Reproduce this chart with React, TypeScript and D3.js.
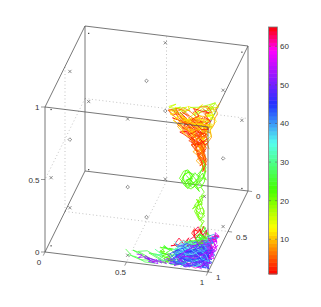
import React from 'react';
import * as d3 from 'd3';

const cubeTicks = [0, 0.5, 1];
const barTicks = [10, 20, 30, 40, 50, 60];

// colour value of each track, then x,y,z triples in percent of the axes
const topValues = [3, 5, 8, 10, 2, 12, 6, 16, 9, 4, 18, 11, 7, 17, 10, 3, 14, 6, 16, 5, 12, 8, 2, 4, 9, 1, 6, 11, 3, 8, 5, 13, 2, 7, 10, 4];
const topTracks = [
  [98,97,97, 93,94,98, 90,92,95, 86,91,97, 83,88,95, 79,87,98, 82,85,96, 77,84,97, 74,83,95, 71,81,97, 75,80,98, 80,84,94, 85,88,92, 89,92,90, 92,93,93, 95,95,89],
  [97,98,88, 95,96,84, 97,95,81, 94,97,78, 96,98,75, 98,96,72, 97,98,69, 95,96,73, 97,95,78, 93,93,82, 91,92,86, 88,91,89, 92,90,92, 90,87,95],
  [99,95,97, 96,90,98, 97,85,96, 94,82,98, 96,78,97, 93,75,98, 97,72,96, 95,70,97, 92,74,95, 90,79,97, 88,83,94, 91,86,92, 94,89,90, 96,92,87, 93,94,84, 96,96,81],
  [85,90,94, 81,86,97, 84,83,93, 88,85,96, 92,82,91, 89,80,95, 93,78,94, 91,84,89, 95,87,93, 92,90,85, 96,93,88, 94,96,80, 97,93,83, 93,92,90, 88,88,92, 84,87,90, 87,92,88],
  [96,98,99, 90,97,99, 85,96,98, 80,94,99, 76,91,98, 81,90,96, 86,93,95, 91,96,93, 96,97,94, 92,95,88, 88,94,91, 83,92,94, 87,89,98, 92,91,97, 97,92,98],
  [72,82,98, 76,82,96, 73,85,97, 78,86,95, 75,80,99, 80,79,97, 84,80,98, 82,77,99, 87,76,97, 90,73,99, 86,78,95, 89,82,93, 84,85,94, 88,87,91],
  [94,97,90, 90,95,87, 93,94,84, 96,97,79, 92,96,81, 95,94,77, 98,97,74, 96,95,79, 93,92,86, 97,93,90, 94,90,92, 98,91,94, 95,87,96, 91,88,93, 93,84,97],
  [78,83,99, 82,82,98, 79,85,96, 83,87,94, 86,84,97, 90,81,99, 87,79,96, 92,76,99, 96,73,98, 94,78,94, 98,76,95, 95,81,92, 91,85,93, 94,88,88],
  [99,98,93, 95,97,95, 97,93,93, 93,90,96, 96,88,92, 92,86,94, 89,89,90, 93,92,87, 90,94,85, 94,95,82, 91,96,84, 95,98,76, 92,97,80, 97,98,84],
  [89,95,99, 84,95,96, 88,92,93, 82,91,92, 86,90,90, 90,93,88, 87,95,86, 91,94,83, 89,97,85, 93,98,81, 90,96,89, 85,94,92, 80,92,96, 84,89,98],
  [74,81,98, 78,79,99, 74,84,99, 80,82,96, 84,78,99, 88,75,98, 93,71,98, 97,69,99, 95,73,96, 91,77,97, 87,82,96],
  [95,92,95, 91,91,92, 94,86,90, 97,88,87, 93,91,84, 97,94,82, 94,93,78, 97,97,77, 93,97,86, 89,93,93, 85,92,97, 81,89,99],
  [98,93,90, 94,92,86, 97,96,84, 95,98,80, 98,97,78, 94,95,75, 97,96,71, 99,98,76, 96,99,82, 99,96,87, 96,93,93, 99,90,95],
  [100,80,98, 97,77,100, 100,74,99, 97,71,100, 94,72,98, 98,78,94, 95,83,93, 99,85,91, 96,88,92],
  [83,92,99, 87,90,97, 91,92,95, 87,94,93, 92,97,91, 88,97,95, 84,97,92, 80,95,95, 84,93,97, 89,88,97, 93,87,99, 90,84,98],
  [96,95,92, 92,93,90, 88,92,87, 91,95,82, 95,96,86, 97,97,81, 93,98,78, 96,97,73, 94,96,70, 98,97,76, 95,97,83],
  [99,88,99, 95,84,100, 98,81,97, 94,79,95, 97,76,94, 100,79,92, 97,83,90, 99,88,87, 96,90,84],
  [92,89,98, 88,86,99, 84,82,99, 80,81,100, 77,86,99, 81,88,97, 85,88,95, 90,90,94, 86,92,90, 90,95,90],
  [71,80,99, 75,78,100, 72,83,100, 77,81,99, 82,80,100, 79,84,98],
  [97,99,95, 93,98,92, 89,98,89, 93,97,85, 97,98,87, 94,99,91, 90,99,94, 86,99,96, 82,98,98, 78,97,100],
  [99,72,98, 96,75,95, 99,78,93, 97,82,95, 94,85,91, 97,88,89, 93,88,87, 96,91,83],
  [100,70,100, 98,73,97, 100,76,96, 99,80,94, 100,84,93, 98,87,90, 100,91,88, 98,94,85, 100,97,83],
  [92,96,94, 87,95,90, 83,93,92, 79,91,94, 84,90,96, 89,91,94, 94,93,92, 90,94,90, 95,96,90, 98,95,92, 93,91,90, 88,90,93, 83,87,97, 79,85,99],
  [96,90,94, 92,88,97, 88,87,94, 84,84,96, 80,83,98, 85,82,95, 90,84,93, 94,85,95, 98,87,93, 95,90,89, 91,90,87, 95,93,85, 98,95,87],
  [90,96,91, 86,94,89, 89,92,84, 92,94,80, 90,97,80, 94,96,76, 92,97,74, 95,98,72, 97,96,76, 94,94,80, 97,95,85, 93,95,88, 97,97,91],
  [99,99,91, 95,99,87, 91,98,85, 88,96,88, 84,95,90, 81,93,90, 85,91,90, 89,94,87, 93,95,85, 90,92,82, 93,90,85, 96,91,82, 98,93,85],
  [85,86,98, 81,84,100, 76,83,100, 80,86,96, 84,88,93, 88,89,96, 92,86,97, 96,83,95, 93,80,97, 97,79,98, 94,76,100, 90,78,100, 86,81,97],
  [97,90,90, 95,86,92, 98,83,92, 95,80,93, 91,83,94, 87,84,92, 91,87,90, 87,90,89, 83,90,92, 78,88,96, 82,86,95, 86,86,94],
  [94,98,85, 91,97,82, 94,97,79, 92,95,78, 95,97,74, 97,99,70, 96,97,67, 98,98,73, 96,98,79, 98,96,83, 95,94,86, 92,93,84],
  [88,92,96, 92,92,93, 96,94,94, 100,95,93, 96,91,95, 92,90,96, 88,88,95, 84,86,93, 80,88,94, 76,87,97, 72,84,99, 77,82,98],
  [90,88,91, 94,91,88, 91,93,86, 95,95,83, 92,95,79, 88,93,82, 92,91,83, 96,93,80, 93,96,78, 97,96,74],
  [84,94,90, 80,90,93, 76,89,95, 80,88,99, 85,91,98, 90,89,99, 95,90,98, 99,92,96, 95,93,97, 90,94,97, 85,94,99, 81,94,98],
  [93,82,96, 97,81,93, 94,84,92, 97,86,90, 93,87,90, 89,85,92, 86,83,94, 90,82,96, 86,79,99, 91,79,98, 95,77,96, 91,75,97],
  [98,98,82, 95,99,78, 98,98,74, 96,99,70, 98,97,67, 96,97,71, 93,97,76, 96,96,80, 92,94,83, 88,93,85, 91,91,88, 87,89,91],
  [82,87,96, 86,89,93, 82,92,90, 86,94,88, 90,92,88, 87,90,91, 92,88,90, 88,86,93, 93,85,93, 97,85,91, 100,86,93],
  [75,84,99, 79,88,97, 83,90,95, 87,92,94, 91,94,93, 95,95,92, 99,97,90, 96,98,88, 92,99,87, 88,98,91, 84,98,94],
];

const strandValues = [22, 21, 23, 20, 24, 22, 21, 23];
const strandTracks = [
  [98,97,68, 97,97,64, 98,96,61, 96,97,63, 94,98,60, 96,97,57, 93,97,55, 90,96,58, 88,97,61, 85,98,59, 84,97,62, 87,96,65, 89,97,62, 86,97,57, 83,96,60, 85,97,64, 88,98,66, 91,97,62, 93,96,58, 90,97,55, 87,97,57, 92,98,60, 96,97,66, 97,96,60, 95,97,56, 97,97,53],
  [97,97,53, 95,96,50, 96,97,47, 93,97,45, 94,98,48, 91,97,43, 93,96,40, 96,97,42, 97,97,38, 94,96,37, 92,97,40, 94,98,35, 97,97,33, 95,97,30, 96,96,27, 94,97,24, 97,98,21, 95,97,18, 97,96,15],
  [86,97,63, 90,98,59, 87,97,54, 84,96,56, 87,97,60, 91,96,65, 94,97,62, 91,98,57, 94,97,53, 92,96,56, 96,98,62, 98,97,70, 96,97,75],
  [96,97,46, 93,98,43, 92,97,38, 95,96,34, 97,97,40, 95,97,44, 92,96,47, 95,98,41, 93,97,36, 96,97,31, 94,96,28, 96,98,23],
  [97,96,24, 94,97,20, 92,96,17, 95,98,14, 93,97,11, 96,96,9, 98,97,13, 96,98,18, 94,97,22],
  [84,97,58, 82,98,61, 84,96,65, 87,97,67, 90,98,64, 88,97,59, 85,96,55, 89,97,54, 92,97,58, 95,96,62, 93,98,65, 96,97,69],
  [92,97,44, 90,98,41, 93,96,43, 96,98,45, 94,97,49, 97,97,51, 94,96,46, 91,97,39, 94,97,33, 97,96,36, 95,98,40],
  [88,96,60, 91,97,64, 86,98,67, 83,97,58, 87,96,55, 90,98,62, 86,97,60, 89,96,56, 93,97,62, 97,97,72],
];

const tailValues = [26, 27, 54, 24, 53, 30, 52, 25, 22];
const tailTracks = [
  [47,90,3, 52,94,1, 58,97,1, 64,98,2, 58,95,3, 52,92,4, 57,91,2, 63,94,1, 69,97,1, 74,99,2, 68,96,3, 62,93,4, 66,90,2, 72,93,1, 78,96,2, 73,91,3],
  [49,93,1, 55,96,2, 61,99,1, 67,99,1, 61,96,2, 55,91,3, 60,89,3, 66,92,2, 72,95,1, 77,98,1, 82,99,2, 76,94,3],
  [54,91,1, 58,93,2, 56,95,1, 61,94,2, 64,97,1, 62,95,2, 67,96,1, 65,98,1, 70,97,2, 74,98,1, 72,95,2, 77,97,1],
  [66,82,2, 70,84,4, 67,87,2, 72,87,1, 69,90,3, 74,89,2, 71,92,1, 77,90,3, 74,94,2, 80,92,1, 76,86,2, 72,83,3, 76,82,2, 80,85,3],
  [72,88,2, 75,91,1, 73,94,2, 78,93,1, 76,97,2, 81,96,1, 79,99,1, 84,97,2, 82,94,1, 86,95,2],
  [64,86,3, 69,88,1, 65,91,2, 71,92,3, 68,95,1, 74,96,2],
  [60,93,2, 63,96,1, 60,96,2, 66,95,1, 63,98,1, 69,99,1, 67,96,2, 71,98,1, 69,94,1],
  [68,80,3, 71,82,2, 69,85,5, 73,85,3, 70,88,6, 75,87,5, 72,90,4, 76,89,2, 78,86,6, 75,84,7],
  [67,84,4, 70,86,2, 68,89,4, 72,89,2, 70,93,3, 75,93,2, 73,96,1, 78,94,2],
];

const bottomValues = [45, 52, 40, 28, 60, 48, 55, 33, 42, 50, 26, 58, 46, 38, 53, 44, 30, 56, 47, 41, 36, 49, 25, 43, 57, 39, 51, 22, 64, 63, 65, 2, 35, 34, 62, 44, 46, 42, 48, 40, 47, 45, 43, 50, 38, 52, 36, 55, 29, 41, 24];
const bottomTracks = [
  [78,98,3, 83,97,1, 88,99,2, 84,95,4, 90,94,2, 95,97,1, 91,99,3, 97,99,2, 94,94,4, 99,92,3, 95,89,5, 90,91,6, 86,92,3, 81,94,5, 85,98,2],
  [98,98,1, 93,96,3, 96,91,2, 91,89,4, 95,86,5, 99,84,3, 96,81,6, 92,84,7, 88,87,5, 92,92,3, 87,95,4, 82,97,2, 86,99,1, 91,98,2],
  [76,97,5, 81,98,3, 79,93,6, 84,92,4, 82,89,8, 87,90,5, 85,85,9, 90,86,6, 94,83,9, 97,87,6, 93,90,3, 98,93,4, 96,97,1, 100,96,2],
  [78,94,8, 83,95,6, 80,99,2, 85,96,3, 89,97,1, 86,92,6, 91,93,4, 88,88,8, 93,87,5, 90,83,10, 86,86,11, 83,90,9, 87,94,5, 92,96,2],
  [84,92,8, 89,94,5, 86,97,2, 92,99,1, 97,98,3, 95,93,6, 100,90,5, 97,85,7, 100,80,6, 97,76,8, 94,80,10, 97,84,4, 93,88,2, 89,90,4],
  [80,96,4, 85,99,1, 90,97,2, 87,93,3, 82,92,6, 87,90,7, 92,91,5, 96,94,2, 100,98,1, 98,93,2, 94,91,4, 99,88,5, 95,84,8, 91,87,9],
  [96,99,1, 92,97,1, 97,95,3, 100,93,2, 96,90,4, 100,86,4, 96,83,6, 92,81,8, 95,78,7, 99,75,9, 96,73,7, 100,78,3, 97,82,2, 93,85,3],
  [77,95,7, 82,97,4, 78,92,9, 84,93,7, 81,96,5, 86,97,3, 83,99,1, 89,95,5, 85,91,7, 91,90,8, 88,94,3, 94,95,1, 90,98,1],
  [88,99,1, 92,95,3, 86,94,2, 91,91,2, 95,92,3, 98,89,2, 94,87,2, 89,85,4, 93,82,5, 97,80,4, 100,83,2, 96,87,1, 100,90,1, 97,95,1],
  [79,99,2, 84,98,4, 81,95,3, 87,96,6, 83,93,8, 88,92,9, 93,94,7, 89,89,10, 94,89,8, 98,91,7, 95,95,4, 99,97,3, 94,98,2],
  [82,92,10, 86,90,13, 90,92,11, 94,90,15, 91,88,18, 96,92,19, 93,95,14, 97,94,11, 94,91,8, 90,94,6, 86,96,8],
  [98,85,2, 94,83,3, 98,80,5, 94,76,6, 98,72,5, 95,70,7, 99,68,6, 96,74,9, 100,77,8, 96,80,10, 92,83,11, 95,87,9, 99,90,8, 96,94,6],
  [76,99,2, 80,97,1, 85,94,1, 82,91,3, 87,88,3, 92,87,1, 89,84,2, 94,81,3, 91,79,5, 95,76,3, 92,74,6, 88,79,8, 85,83,7],
  [85,97,6, 90,96,7, 87,92,10, 92,89,12, 97,90,11, 94,85,12, 98,86,10, 95,89,7, 91,94,4, 96,96,3, 92,99,2, 87,99,3],
  [99,95,1, 95,94,1, 98,90,1, 93,89,2, 97,85,1, 92,85,1, 96,81,1, 91,82,3, 87,84,1, 90,87,2, 85,88,2, 89,92,1, 84,90,3, 80,93,2],
  [100,99,2, 96,98,2, 99,94,4, 95,91,7, 99,87,9, 95,82,10, 98,78,11, 94,77,9, 90,80,7, 94,84,6, 89,86,7, 85,89,5, 80,91,4, 77,93,3],
  [81,97,8, 85,95,10, 89,97,6, 93,98,4, 89,96,9, 85,93,11, 90,90,13, 95,91,12, 92,86,14, 97,88,13, 100,85,11],
  [100,95,3, 97,91,4, 100,87,6, 97,83,9, 100,79,10, 98,75,11, 100,72,9, 97,70,10, 99,74,5, 96,78,3, 93,76,2, 97,73,2],
  [75,99,4, 79,96,2, 83,94,2, 88,97,1, 92,94,1, 88,91,1, 93,91,1, 90,87,1, 95,88,1, 100,90,3, 96,86,3, 92,88,6, 97,92,5],
  [77,97,2, 80,94,4, 77,91,5, 81,90,6, 84,88,5, 88,91,7, 92,93,6, 88,96,4, 84,99,3, 80,99,4, 85,96,1],
  [90,95,10, 86,94,13, 82,96,11, 86,98,8, 91,99,5, 96,95,8, 92,92,10, 88,90,11, 84,87,11, 88,84,9, 92,86,7, 96,83,11, 93,79,12, 98,82,7],
  [90,99,4, 95,98,5, 91,95,7, 97,97,6, 100,94,6, 96,92,8, 100,89,9, 96,86,12, 93,89,13, 89,93,9, 85,92,12],
  [96,94,14, 94,92,18, 97,90,21, 94,88,24, 97,93,26, 94,95,22, 91,93,20, 95,91,16, 98,94,18, 95,96,13, 92,95,16],
  [99,98,4, 94,96,6, 90,93,8, 95,94,9, 91,88,6, 86,91,9, 81,93,7, 78,90,6, 82,88,7, 86,89,4, 90,85,5],
  [100,92,6, 97,89,3, 100,85,1, 98,82,3, 100,76,5, 97,78,1, 94,79,1, 91,76,3, 94,73,4, 97,77,5],
  [83,96,6, 79,97,7, 83,92,11, 87,92,8, 91,95,9, 87,97,5, 92,97,7, 97,96,8, 93,93,12, 97,92,15, 100,94,10],
  [84,99,2, 89,98,3, 86,95,1, 92,93,2, 97,93,1, 93,90,1, 99,91,1, 95,85,3, 100,82,4, 96,79,6, 92,78,4, 88,82,4],
  [94,90,22, 97,87,19, 94,84,17, 97,81,14, 93,83,13, 96,86,15, 92,89,15, 95,93,12],
  [78,96,13, 81,95,18, 84,96,15, 87,95,19, 85,97,14, 89,98,16, 87,93,13, 83,92,15, 80,93,12, 76,95,12, 78,96,13],
  [92,97,19, 90,95,24, 93,96,28, 96,97,23, 98,95,26, 97,93,21, 94,98,17, 91,98,22, 88,97,19, 92,97,15],
  [92,96,23, 95,97,27, 91,98,26, 90,94,20, 93,93,24, 97,95,20],
  [93,96,24, 91,97,27, 89,96,23, 92,98,21, 95,98,25, 97,98,30],
  [80,96,11, 83,97,9, 86,97,12, 84,94,16, 81,93,14, 85,92,10, 88,95,11, 84,99,13, 80,98,16, 78,94,15],
  [82,97,13, 85,95,14, 83,93,12, 87,94,16, 84,98,11, 88,92,10, 86,96,8],
  [98,78,12, 100,74,10, 97,71,9, 100,82,12, 97,86,15, 100,90,12, 98,93,9, 100,96,7],
  [79,98,6, 83,99,9, 86,98,5, 90,99,8, 94,99,4, 98,97,7, 95,96,10, 91,96,12, 87,97,9, 83,96,12, 79,97,10, 76,98,8, 80,99,5],
  [82,99,7, 86,96,10, 90,97,12, 94,97,9, 97,98,12, 100,97,8, 97,95,12, 93,96,15, 89,97,13, 85,98,11, 81,99,12, 78,98,9],
  [78,99,5, 82,96,8, 85,98,10, 88,96,12, 92,98,10, 95,99,13, 99,99,10, 96,97,6, 92,96,9, 88,98,7, 84,97,5, 80,98,8],
  [84,97,14, 88,99,12, 92,99,14, 96,98,16, 100,99,13, 97,97,15, 94,97,17, 90,98,15, 86,97,16, 83,99,15, 80,97,13],
  [77,99,7, 81,98,10, 85,99,7, 89,98,9, 93,97,11, 97,96,14, 100,95,13, 98,98,8, 94,98,7, 90,96,5, 86,95,7, 82,95,9],
  [87,93,5, 91,92,8, 95,93,7, 99,94,8, 96,90,10, 92,90,6, 88,89,6, 84,91,7, 87,87,8, 91,85,10, 95,87,7, 99,86,7, 96,89,3],
  [83,98,6, 87,98,5, 91,97,6, 95,97,7, 99,96,5, 95,95,6, 91,95,7, 87,96,7, 83,95,8, 79,95,6, 82,97,5, 86,94,8, 90,93,10],
  [81,94,10, 85,97,13, 89,95,15, 93,97,12, 96,94,11, 99,96,11, 95,92,13, 91,91,14, 87,92,15, 83,94,12, 79,96,14],
  [76,96,3, 80,98,6, 84,96,9, 88,93,6, 92,95,8, 96,97,9, 100,97,5, 97,94,8, 93,92,7, 89,93,4, 85,93,5, 81,96,3],
  [86,98,13, 90,95,14, 94,96,11, 98,96,13, 96,93,14, 92,94,15, 88,94,13, 84,95,15, 80,95,12, 83,97,10, 87,99,9],
  [88,90,5, 92,87,7, 96,88,5, 100,87,8, 97,84,10, 93,84,9, 89,83,8, 86,88,9, 90,88,11, 94,86,13, 98,84,12],
  [78,98,11, 82,99,14, 86,99,10, 90,97,9, 94,96,12, 98,97,10, 100,98,6, 96,99,8, 92,98,11, 88,97,13],
  [81,92,4, 85,90,3, 89,88,1, 93,86,3, 97,84,6, 94,81,8, 90,82,9, 86,85,6, 83,88,5, 79,92,3, 83,95,2],
  [87,91,12, 91,93,14, 88,95,16, 84,92,14, 86,88,12, 90,87,13, 93,88,16, 97,90,16, 94,93,18],
  [94,82,7, 98,79,8, 95,75,9, 99,71,7, 96,69,8, 93,72,8, 97,75,6, 93,78,7, 90,84,4, 94,85,5],
  [93,93,21, 96,90,18, 93,87,15, 90,90,17, 93,94,15, 96,96,17, 93,98,20, 90,96,18, 87,95,17],
];

const colorStops = [1, 13, 23, 35, 45, 59, 65];
const colorNames = ['#ff0000', '#ffff00', '#44ff00', '#55ffee', '#2233ff', '#ff00ff', '#ff0000'];
const barLevels = d3.range(1, 65);

const px = d3.scaleLinear().domain([0, 1]).range([0, 163]);
const pyFromX = d3.scaleLinear().domain([0, 1]).range([0, 20]);
const pxFromY = d3.scaleLinear().domain([0, 1]).range([0, -40]);
const pyFromY = d3.scaleLinear().domain([0, 1]).range([0, 81]);
const pyFromZ = d3.scaleLinear().domain([0, 1]).range([0, -145]);
const barY = d3.scaleLinear().domain([1, 65]).range([274, 27]);
const color = d3.scaleLinear<string>().domain(colorStops).range(colorNames).interpolate(d3.interpolateRgb);

type P = [number, number, number];
const X = (p: P) => 85 + px(p[0]) + pxFromY(p[1]);
const Y = (p: P) => 171 + pyFromX(p[0]) + pyFromY(p[1]) + pyFromZ(p[2]);
const line = d3.line<P>().x(X).y(Y);

const triples = (flat: number[]): P[] =>
  d3.range(0, flat.length, 3).map(i => [flat[i] / 100, flat[i + 1] / 100, flat[i + 2] / 100] as P);

const lo = 0.03, hi = 0.97, mid = 0.5;
const dots: P[] = [];
[lo, hi].forEach(a => [lo, hi].forEach(b => [lo, hi].forEach(c => dots.push([a, b, c]))));
const crosses: P[] = [];
[lo, hi].forEach(a => [lo, hi].forEach(b => {
  crosses.push([mid, a, b]);
  crosses.push([a, mid, b]);
  crosses.push([a, b, mid]);
}));
const diamonds: P[] = [
  [mid, mid, lo], [mid, mid, hi], [lo, mid, mid], [hi, mid, mid], [mid, lo, mid], [mid, hi, mid],
];

const backEdges: P[][] = [
  [[0, 0, 0], [0, 0, 1]], [[0, 0, 1], [1, 0, 1]], [[1, 0, 1], [1, 0, 0]], [[0, 0, 0], [1, 0, 0]],
  [[0, 0, 0], [0, 1, 0]], [[1, 0, 0], [1, 1, 0]], [[0, 0, 1], [0, 1, 1]], [[1, 0, 1], [1, 1, 1]],
];
const frontEdges: P[][] = [
  [[0, 1, 0], [1, 1, 0]], [[0, 1, 1], [1, 1, 1]], [[0, 1, 0], [0, 1, 1]], [[1, 1, 0], [1, 1, 1]],
];
const gridLines: P[][] = [
  [[mid, 0, 0], [mid, 1, 0]], [[0, mid, 0], [1, mid, 0]],
  [[0, 0, mid], [1, 0, mid]], [[mid, 0, 0], [mid, 0, 1]],
  [[0, 0, mid], [0, 1, mid]], [[0, mid, 0], [0, mid, 1]],
];

const font = { fontFamily: 'Liberation Sans', fontSize: 8, fill: '#333' };

function Tracks({ tracks, values }: { tracks: number[][]; values: number[] }) {
  return (
    <g fill="none" strokeWidth={0.8} strokeLinejoin="round">
      {tracks.map((t, i) => (
        <path key={i} d={line(triples(t)) as string} stroke={color(values[i])} />
      ))}
    </g>
  );
}

function Edges({ edges }: { edges: P[][] }) {
  return (
    <g fill="none" stroke="#555" strokeWidth={0.8}>
      {edges.map((e, i) => <path key={i} d={line(e) as string} />)}
    </g>
  );
}

export default function App() {
  return (
    <svg width={321} height={307} style={{ position: 'absolute', left: 0, top: 0 }}>
      <g fill="none" stroke="#aaa" strokeWidth={0.7} strokeDasharray="1 2.5">
        {gridLines.map((e, i) => <path key={i} d={line(e) as string} />)}
      </g>
      <Edges edges={backEdges} />

      {dots.map((p, i) => <rect key={i} x={X(p) - 0.6} y={Y(p) - 0.6} width={1.2} height={1.2} fill="#333" />)}
      {crosses.map((p, i) => (
        <path key={i} stroke="#444" strokeWidth={0.6}
          d={`M${X(p) - 1.6},${Y(p) - 1.6}L${X(p) + 1.6},${Y(p) + 1.6}M${X(p) - 1.6},${Y(p) + 1.6}L${X(p) + 1.6},${Y(p) - 1.6}`} />
      ))}
      {diamonds.map((p, i) => (
        <path key={i} fill="none" stroke="#444" strokeWidth={0.6}
          d={`M${X(p)},${Y(p) - 1.8}L${X(p) + 1.8},${Y(p)}L${X(p)},${Y(p) + 1.8}L${X(p) - 1.8},${Y(p)}Z`} />
      ))}

      <Tracks tracks={topTracks} values={topValues} />
      <Edges edges={frontEdges} />
      <Tracks tracks={strandTracks} values={strandValues} />
      <Tracks tracks={tailTracks} values={tailValues} />
      <Tracks tracks={bottomTracks} values={bottomValues} />

      {/* cube ticks and labels */}
      <g stroke="#555" strokeWidth={0.6}>
        {cubeTicks.map(t => {
          const z: P = [0, 1, t];
          return <line key={t} x1={X(z) - 4} x2={X(z)} y1={Y(z)} y2={Y(z)} />;
        })}
        {cubeTicks.map(t => {
          const a: P = [t, 1, 0], b: P = [t, 1.045, 0];
          return <line key={t} x1={X(a)} x2={X(b)} y1={Y(a)} y2={Y(b)} />;
        })}
        {cubeTicks.map(t => {
          const a: P = [1, t, 0], b: P = [1.025, t, 0];
          return <line key={t} x1={X(a)} x2={X(b)} y1={Y(a)} y2={Y(b)} />;
        })}
      </g>
      <g {...font}>
        {cubeTicks.map(t => (
          <text key={t} x={39.5} y={Y([0, 1, t]) + 3} textAnchor="end">{t}</text>
        ))}
        {cubeTicks.map(t => (
          <text key={t} x={X([t, 1, 0]) - 6} y={Y([t, 1, 0]) + 13} textAnchor="middle">{t}</text>
        ))}
        {cubeTicks.map(t => (
          <text key={t} x={X([1, t, 0]) + 8} y={Y([1, t, 0]) + 8} textAnchor="start">{t}</text>
        ))}
      </g>

      {/* colour bar */}
      {barLevels.map(v => (
        <rect key={v} x={269} width={8} y={barY(v + 1)} height={barY(v) - barY(v + 1) + 0.5} fill={color(v + 0.5)} />
      ))}
      <rect x={268.5} y={27} width={9} height={247} fill="none" stroke="#777" strokeWidth={0.8} />
      <g stroke="#555" strokeWidth={0.5}>
        {barTicks.map(t => (
          <g key={t}>
            <line x1={269} x2={271} y1={barY(t)} y2={barY(t)} />
            <line x1={275} x2={277} y1={barY(t)} y2={barY(t)} />
          </g>
        ))}
      </g>
      <g {...font}>
        {barTicks.map(t => <text key={t} x={280} y={barY(t) + 3}>{t}</text>)}
      </g>
    </svg>
  );
}
